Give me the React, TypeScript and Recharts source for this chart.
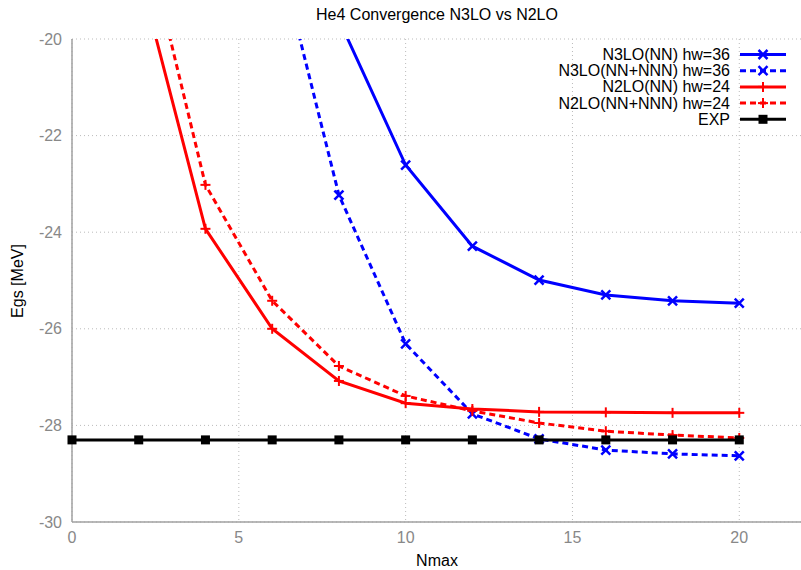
import { LineChart, Line, XAxis, YAxis, CartesianGrid } from "recharts";

const nmax = [0, 2, 4, 6, 8, 10, 12, 14, 16, 18, 20];
const n3loNN = [null, null, null, null, -19.6, -22.61, -24.29, -24.99, -25.3, -25.42, -25.47];
const n3loNNN = [null, null, null, -17.7, -23.23, -26.31, -27.76, -28.28, -28.51, -28.59, -28.63];
const n2loNN = [null, -18.6, -23.93, -26.0, -27.08, -27.54, -27.66, -27.72, -27.73, -27.74, -27.74];
const n2loNNN = [null, -17.3, -23.02, -25.42, -26.77, -27.39, -27.7, -27.95, -28.12, -28.2, -28.26];
const exp = [-28.3, -28.3, -28.3, -28.3, -28.3, -28.3, -28.3, -28.3, -28.3, -28.3, -28.3];

const xTicks = [0, 5, 10, 15, 20];
const yTicks = [-30, -28, -26, -24, -22, -20];

const data = nmax.map((n, i) => ({
  n,
  n3loNN: n3loNN[i],
  n3loNNN: n3loNNN[i],
  n2loNN: n2loNN[i],
  n2loNNN: n2loNNN[i],
  exp: exp[i],
}));

type Shape = "x" | "plus" | "square";

const SERIES: { key: string; name: string; color: string; dash?: string; shape: Shape }[] = [
  { key: "n3loNN", name: "N3LO(NN) hw=36", color: "#0000ff", shape: "x" },
  { key: "n3loNNN", name: "N3LO(NN+NNN) hw=36", color: "#0000ff", dash: "6 4", shape: "x" },
  { key: "n2loNN", name: "N2LO(NN) hw=24", color: "#ff0000", shape: "plus" },
  { key: "n2loNNN", name: "N2LO(NN+NNN) hw=24", color: "#ff0000", dash: "6 4", shape: "plus" },
  { key: "exp", name: "EXP", color: "#000000", shape: "square" },
];

const FONT = "'Liberation Sans', Arial, sans-serif";

function Marker({ cx, cy, color, shape }: { cx: number; cy: number; color: string; shape: Shape }) {
  if (shape === "square") {
    return <rect x={cx - 4.5} y={cy - 4.5} width={9} height={9} fill={color} />;
  }
  if (shape === "plus") {
    return (
      <g stroke={color} strokeWidth={2}>
        <line x1={cx - 5} y1={cy} x2={cx + 5} y2={cy} />
        <line x1={cx} y1={cy - 5} x2={cx} y2={cy + 5} />
      </g>
    );
  }
  return (
    <g stroke={color} strokeWidth={2.5}>
      <line x1={cx - 4.5} y1={cy - 4.5} x2={cx + 4.5} y2={cy + 4.5} />
      <line x1={cx - 4.5} y1={cy + 4.5} x2={cx + 4.5} y2={cy - 4.5} />
    </g>
  );
}

function makeDot(color: string, shape: Shape) {
  return (props: any) => {
    const { cx, cy, value, index } = props;
    if (value == null || cx == null || cy == null || value > -20) return <g key={`d-${index}`} />;
    return (
      <g key={`d-${index}`}>
        <Marker cx={cx} cy={cy} color={color} shape={shape} />
      </g>
    );
  };
}

export default function App() {
  return (
    <div style={{ position: "absolute", left: 0, top: 0, width: 801, height: 570, overflow: "hidden", background: "#fff" }}>
      <LineChart width={810} height={570} data={data} margin={{ top: 39, right: 4, bottom: 18, left: 0 }}>
        <CartesianGrid stroke="#bbbbbb" strokeDasharray="1 3" />
        <XAxis
          type="number"
          dataKey="n"
          domain={[0, 22]}
          ticks={xTicks}
          height={30}
          tick={{ fontSize: 16, fill: "#888888", fontFamily: FONT }}
          tickLine={false}
          axisLine={{ stroke: "#a0a0a0", strokeWidth: 1.5 }}
          tickMargin={4}
        />
        <YAxis
          type="number"
          domain={[-30, -20]}
          ticks={yTicks}
          allowDataOverflow
          width={72}
          tick={{ fontSize: 16, fill: "#888888", fontFamily: FONT }}
          tickLine={false}
          axisLine={{ stroke: "#a0a0a0", strokeWidth: 1.5 }}
          tickMargin={4}
        />
        {SERIES.map((s) => (
          <Line
            key={s.key}
            dataKey={s.key}
            stroke={s.color}
            strokeWidth={3}
            strokeDasharray={s.dash}
            dot={makeDot(s.color, s.shape)}
            activeDot={false}
            isAnimationActive={false}
            type="linear"
          />
        ))}
      </LineChart>
      <svg width={801} height={570} style={{ position: "absolute", left: 0, top: 0, pointerEvents: "none" }}>
        <text x={437} y={20} textAnchor="middle" fontSize={16} fontFamily={FONT} fill="#000">
          He4 Convergence N3LO vs N2LO
        </text>
        <text x={437} y={566} textAnchor="middle" fontSize={16} fontFamily={FONT} fill="#000">
          Nmax
        </text>
        <text
          x={0}
          y={0}
          transform="translate(23 281) rotate(-90)"
          textAnchor="middle"
          fontSize={16}
          fontFamily={FONT}
          fill="#000"
        >
          Egs [MeV]
        </text>
        {SERIES.map((s, i) => {
          const y = 54.5 + i * 16.2;
          return (
            <g key={s.key}>
              <text x={730} y={y + 5.5} textAnchor="end" fontSize={16} fontFamily={FONT} fill="#000">
                {s.name}
              </text>
              <line x1={740} y1={y} x2={786} y2={y} stroke={s.color} strokeWidth={3} strokeDasharray={s.dash} />
              <Marker cx={763} cy={y} color={s.color} shape={s.shape} />
            </g>
          );
        })}
      </svg>
    </div>
  );
}
